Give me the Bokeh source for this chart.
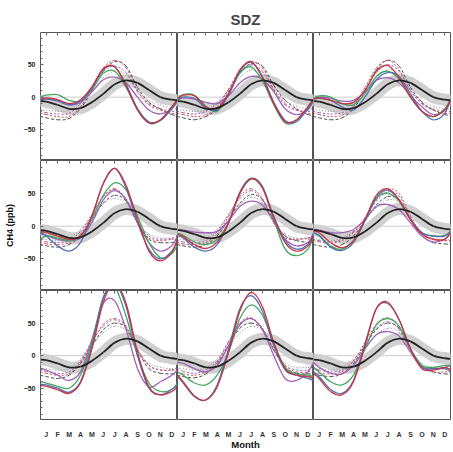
from bokeh.plotting import figure
from bokeh.layouts import gridplot
from bokeh.models import FixedTicker, Span, LinearAxis, Range1d
from bokeh.embed import file_html
from bokeh.resources import INLINE

X = [0.5, 1, 2, 3, 4, 5, 6, 7, 8, 9, 10, 11, 12, 12.5]
MONTH_TICKS = [1, 2, 3, 4, 5, 6, 7, 8, 9, 10, 11, 12]
MONTH_LABELS = ["J", "F", "M", "A", "M", "J", "J", "A", "S", "O", "N", "D"]
Y_TICKS = [-50, 0, 50]
Y_MINOR = [-90, -80, -70, -60, -40, -30, -20, -10, 10, 20, 30, 40, 60, 70, 80, 90]

BLACK = [-6, -7, -12, -18, -17, -8, 5, 20, 26, 22, 11, 0, -4, -5]

RED = [
    [-4, -1, -4, -10, -4, 16, 44, 47, 17, -20, -40, -35, -15, -4],
    [-3, 3, 2, -15, -18, 5, 42, 55, 30, -10, -38, -35, -15, -3],
    [-3, -1, -5, -10, -8, 10, 40, 49, 30, 0, -22, -30, -20, -5],
    [-8, -10, -15, -20, -15, 15, 65, 88, 62, 10, -38, -53, -40, -20],
    [-12, -16, -28, -34, -24, 5, 50, 72, 58, 12, -25, -38, -30, -13],
    [-8, -10, -25, -33, -22, 10, 47, 57, 40, 10, -12, -20, -20, -10],
    [-46, -47, -52, -58, -42, 10, 82, 112, 80, 5, -48, -60, -55, -48],
    [-30, -40, -62, -68, -48, 5, 68, 97, 75, 20, -20, -30, -32, -35],
    [-28, -35, -55, -60, -40, 15, 72, 82, 55, 10, -20, -22, -18, -22],
]
BLUE = [
    [-5, -3, -6, -12, -6, 14, 43, 47, 20, -18, -38, -36, -18, -5],
    [-5, 0, -2, -17, -20, 3, 40, 54, 32, -8, -36, -38, -18, -5],
    [-3, -2, -5, -15, -20, 0, 27, 38, 32, 5, -22, -35, -25, -2],
    [-10, -15, -30, -38, -25, 15, 65, 88, 58, 5, -35, -50, -38, -20],
    [-15, -18, -32, -38, -28, 5, 52, 73, 60, 15, -22, -35, -28, -12],
    [-10, -15, -32, -37, -25, 8, 44, 55, 40, 10, -10, -15, -15, -8],
    [-44, -45, -50, -56, -40, 15, 88, 110, 75, 0, -50, -60, -52, -46],
    [-32, -42, -63, -68, -45, 10, 72, 92, 68, 15, -22, -30, -35, -38],
    [-25, -32, -52, -58, -38, 18, 72, 80, 55, 10, -18, -20, -20, -25],
]
GREEN = [
    [0, 3, 4, -5, -6, 12, 37, 40, 15, -18, -40, -36, -15, -3],
    [-2, 4, 3, -14, -22, 5, 37, 47, 25, -12, -40, -37, -15, -3],
    [-2, 2, 0, -10, -12, 5, 32, 40, 28, 0, -22, -30, -18, -3],
    [-20, -15, -18, -22, -15, 10, 47, 66, 55, 15, -25, -48, -42, -28],
    [-11, -14, -24, -28, -20, 5, 50, 72, 60, 10, -35, -45, -35, -15],
    [-10, -14, -30, -35, -22, 8, 42, 50, 38, 10, -10, -15, -14, -8],
    [-40, -42, -47, -50, -30, 20, 90, 105, 60, 0, -42, -55, -52, -42],
    [-25, -30, -42, -45, -30, 5, 57, 78, 62, 18, -18, -28, -30, -32],
    [-18, -25, -40, -45, -30, 10, 47, 57, 45, 10, -15, -18, -15, -15],
]
PURPLE = [
    [-3, -2, -5, -12, -8, 8, 27, 31, 22, 0, -20, -26, -18, -5],
    [-3, -1, -3, -8, -10, 2, 22, 32, 28, 8, -18, -27, -20, -5],
    [-3, 0, -2, -6, -5, 8, 26, 30, 22, 2, -15, -27, -20, -5],
    [-12, -14, -20, -22, -18, 5, 40, 54, 40, 5, -25, -38, -30, -15],
    [-6, -6, -9, -10, -8, 8, 30, 38, 32, 8, -20, -30, -25, -10],
    [-5, -6, -10, -10, -5, 10, 30, 33, 25, 5, -15, -24, -20, -10],
    [-20, -22, -30, -38, -25, 25, 80, 84, 40, -20, -48, -40, -30, -22],
    [-10, -12, -20, -25, -15, 15, 47, 57, 40, 0, -35, -38, -25, -10],
    [-10, -18, -27, -28, -15, 10, 32, 37, 30, 5, -18, -20, -18, -15],
]
RED_DOT = [
    [-25, -27, -30, -30, -15, 15, 45, 57, 45, 10, -12, -20, -25, -25],
    [-25, -27, -30, -28, -15, 12, 42, 55, 45, 12, -10, -20, -25, -25],
    [-25, -27, -30, -28, -15, 15, 45, 57, 42, 10, -10, -20, -25, -25],
    [-25, -27, -28, -25, -12, 15, 45, 57, 40, 5, -18, -22, -20, -18],
    [-25, -27, -28, -25, -12, 15, 45, 57, 42, 5, -15, -20, -18, -18],
    [-22, -24, -26, -22, -10, 12, 40, 56, 50, 15, -12, -20, -22, -22],
    [-25, -27, -30, -28, -10, 20, 48, 57, 45, 10, -15, -22, -22, -22],
    [-25, -28, -30, -25, -10, 20, 50, 58, 42, 10, -15, -25, -25, -22],
    [-25, -27, -28, -25, -8, 20, 48, 58, 45, 10, -15, -25, -25, -25],
]
GRAY_DASH = [
    [-30, -32, -35, -33, -18, 10, 40, 55, 48, 15, -8, -18, -27, -28],
    [-30, -32, -35, -30, -18, 8, 38, 52, 48, 18, -5, -18, -27, -28],
    [-30, -32, -35, -32, -18, 10, 42, 57, 48, 15, -8, -20, -27, -28],
    [-28, -30, -32, -28, -15, 10, 35, 47, 38, 5, -20, -25, -25, -25],
    [-28, -30, -32, -28, -15, 10, 35, 48, 40, 8, -15, -22, -25, -27],
    [-28, -30, -32, -28, -15, 8, 32, 45, 40, 10, -15, -25, -27, -28],
    [-30, -32, -35, -30, -12, 15, 40, 50, 42, 8, -20, -27, -28, -28],
    [-30, -32, -34, -28, -12, 15, 42, 50, 40, 8, -18, -27, -28, -28],
    [-28, -30, -32, -28, -12, 15, 40, 50, 42, 10, -15, -25, -28, -28],
]
PURPLE_DOT = [
    [-22, -24, -26, -25, -10, 15, 40, 48, 38, 8, -10, -18, -22, -22],
    [-22, -24, -26, -22, -10, 12, 38, 50, 40, 10, -12, -20, -22, -22],
    [-22, -24, -26, -24, -12, 12, 38, 50, 40, 10, -10, -18, -22, -22],
    [-22, -24, -25, -22, -8, 18, 45, 56, 42, 8, -15, -20, -18, -15],
    [-22, -24, -25, -22, -8, 18, 42, 54, 40, 5, -18, -20, -18, -15],
    [-20, -22, -24, -20, -8, 12, 38, 52, 46, 12, -12, -20, -22, -22],
    [-22, -24, -27, -25, -8, 22, 45, 55, 42, 8, -15, -22, -22, -20],
    [-20, -24, -27, -22, -8, 22, 48, 57, 42, 8, -15, -22, -22, -20],
    [-20, -22, -25, -22, -8, 18, 42, 52, 40, 8, -15, -20, -20, -20],
]
GRAY_DOT = [
    [-20, -20, -22, -20, -8, 10, 30, 40, 35, 10, -5, -12, -18, -18],
    [-20, -20, -22, -20, -8, 10, 30, 42, 38, 12, -5, -14, -18, -18],
    [-20, -20, -22, -20, -8, 10, 30, 42, 36, 10, -6, -14, -18, -18],
    [-20, -20, -22, -18, -5, 15, 35, 42, 35, 5, -12, -18, -20, -20],
    [-20, -20, -22, -18, -5, 15, 33, 44, 36, 5, -12, -18, -20, -20],
    [-18, -20, -22, -18, -6, 10, 28, 40, 36, 10, -10, -18, -20, -20],
    [-18, -20, -22, -20, -5, 15, 35, 45, 38, 8, -12, -18, -20, -20],
    [-18, -20, -22, -18, -5, 15, 35, 45, 38, 8, -12, -18, -18, -18],
    [-18, -20, -22, -18, -5, 12, 32, 42, 36, 8, -12, -18, -20, -20],
]

FONT = "Liberation Sans"
FRAME_W = [137, 136, 137]
FRAME_H = [128, 130, 129]
TICK_COLOR = "#666666"


def tick_axis(ticks, length):
    # axis with only unlabelled (minor) ticks, pointing into the frame
    return LinearAxis(ticker=FixedTicker(ticks=[], minor_ticks=ticks),
                      minor_tick_in=length, minor_tick_out=0,
                      minor_tick_line_color=TICK_COLOR, axis_line_color=None,
                      major_tick_in=0, major_tick_out=0, major_label_standoff=0)


def smooth_curve(p, xs, ys, **style):
    # draw the series as a smooth curve (Catmull-Rom segments rendered by bezier)
    n = len(xs)
    seg = dict(x0=[], y0=[], x1=[], y1=[], cx0=[], cy0=[], cx1=[], cy1=[])
    for k in range(n - 1):
        a = max(k - 1, 0)
        d = min(k + 2, n - 1)
        seg["x0"].append(xs[k]); seg["y0"].append(ys[k])
        seg["x1"].append(xs[k + 1]); seg["y1"].append(ys[k + 1])
        seg["cx0"].append(xs[k] + (xs[k + 1] - xs[a]) / 6)
        seg["cy0"].append(ys[k] + (ys[k + 1] - ys[a]) / 6)
        seg["cx1"].append(xs[k + 1] - (xs[d] - xs[k]) / 6)
        seg["cy1"].append(ys[k + 1] - (ys[d] - ys[k]) / 6)
    p.bezier(**seg, **style)


figs = []
for r in range(3):
    row = []
    for c in range(3):
        i = r * 3 + c
        p = figure(
            frame_width=FRAME_W[c], frame_height=FRAME_H[r],
            x_range=Range1d(0.5, 12.5), y_range=Range1d(-98, 100),
            output_backend="svg", toolbar_location=None,
            x_axis_location=None, y_axis_location=None,
            min_border_left=40 if c == 0 else 0,
            min_border_right=2 if c == 2 else 0,
            min_border_top=32 if r == 0 else 0,
            min_border_bottom=31 if r == 2 else 0,
        )
        p.grid.visible = False
        p.outline_line_color = "#555555"
        p.outline_line_width = 1
        p.background_fill_color = "white"
        p.border_fill_color = "white"

        p.add_layout(tick_axis(MONTH_TICKS, 3), "above")

        if c == 0:
            ya = LinearAxis(ticker=FixedTicker(ticks=Y_TICKS, minor_ticks=Y_MINOR),
                            major_tick_in=3, major_tick_out=0, minor_tick_in=2, minor_tick_out=0,
                            major_tick_line_color=TICK_COLOR, minor_tick_line_color=TICK_COLOR,
                            axis_line_color=None, major_label_standoff=5,
                            major_label_text_font=FONT, major_label_text_font_size="7px",
                            major_label_text_font_style="bold", major_label_text_color="#222222")
            if r == 1:
                ya.axis_label = "CH4 (ppb)"
                ya.axis_label_text_font = FONT
                ya.axis_label_text_font_size = "9px"
                ya.axis_label_text_font_style = "bold"
                ya.axis_label_text_color = "#111111"
                ya.axis_label_standoff = 6
            p.add_layout(ya, "left")

        if r == 2:
            xa = LinearAxis(ticker=FixedTicker(ticks=MONTH_TICKS, minor_ticks=[]),
                            major_label_overrides={t: l for t, l in zip(MONTH_TICKS, MONTH_LABELS)},
                            major_tick_in=0, major_tick_out=0, axis_line_color=None,
                            major_label_standoff=11,
                            major_label_text_font=FONT, major_label_text_font_size="7px",
                            major_label_text_font_style="bold", major_label_text_color="#333333")
            if c == 1:
                xa.axis_label = "Month"
                xa.axis_label_text_font = FONT
                xa.axis_label_text_font_size = "9.5px"
                xa.axis_label_text_font_style = "bold"
                xa.axis_label_text_color = "#111111"
                xa.axis_label_standoff = -2
            p.add_layout(xa, "below")

        if r == 0 and c == 1:
            p.title.text = "SDZ"
            p.title.align = "center"
            p.title.text_font = FONT
            p.title.text_font_size = "15px"
            p.title.text_font_style = "bold"

        p.add_layout(Span(location=0, dimension="width", line_color="#cccccc", line_width=1,
                          level="underlay"))

        smooth_curve(p, X, BLACK, line_color="#d0d0d0", line_width=12, line_cap="round")
        smooth_curve(p, X, GRAY_DOT[i], line_color="#8a8a8a", line_width=1, line_dash="1 2")
        smooth_curve(p, X, GRAY_DASH[i], line_color="#4a4a4a", line_width=1, line_dash="3 2")
        smooth_curve(p, X, PURPLE_DOT[i], line_color="#9b5fb5", line_width=1, line_dash="2 2")
        smooth_curve(p, X, RED_DOT[i], line_color="#d04a55", line_width=1, line_dash="2 2")
        smooth_curve(p, X, PURPLE[i], line_color="#a060b8", line_width=1.3)
        smooth_curve(p, X, GREEN[i], line_color="#3fa65c", line_width=1.3)
        smooth_curve(p, X, BLUE[i], line_color="#4f70b5", line_width=1.3)
        smooth_curve(p, X, RED[i], line_color="#c83240", line_width=1.3)
        smooth_curve(p, X, BLACK, line_color="#222222", line_width=1.8)
        row.append(p)
    figs.append(row)

grid = gridplot(figs, toolbar_location=None)
open("out.html", "w").write(file_html(grid, INLINE))
